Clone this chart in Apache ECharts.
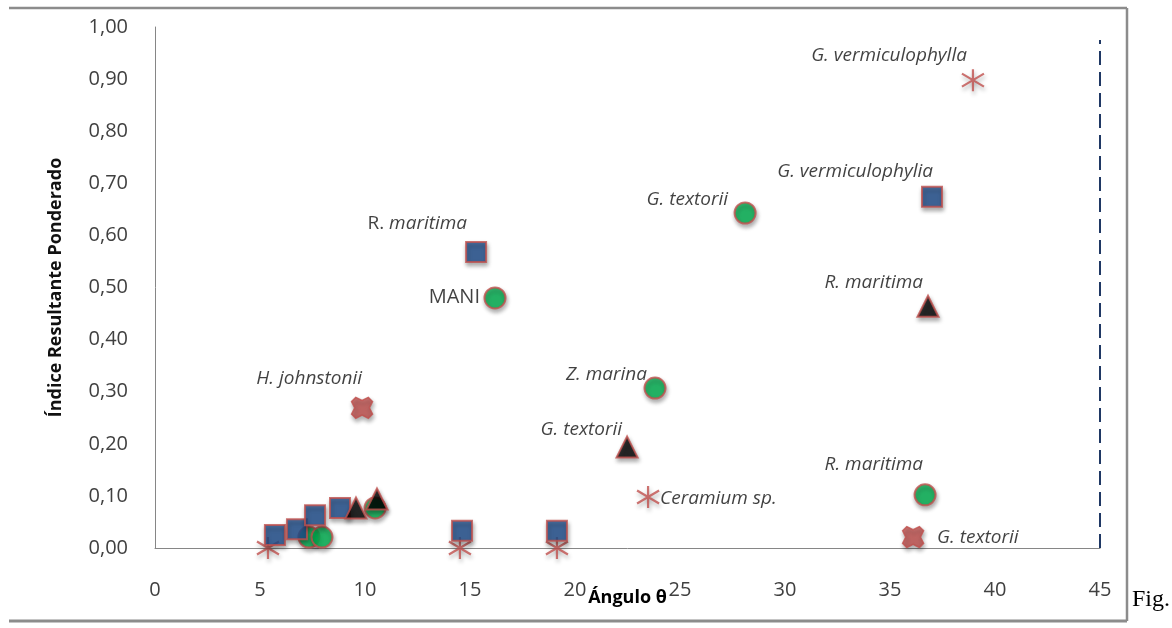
<!DOCTYPE html>
<html>
<head>
<meta charset="utf-8">
<script src="https://cdn.jsdelivr.net/npm/echarts@6/dist/echarts.min.js"></script>
<style>
  html, body { margin: 0; padding: 0; background: #fff; }
  #chart { width: 1172px; height: 628px; }
</style>
</head>
<body>
<div id="chart"></div>
<script>
// Weighted resulting index vs angle θ, per taxon group

// Squares
const squarePoints = [[5.71, 0.025], [6.76, 0.036], [7.62, 0.063], [8.81, 0.077],
                      [14.62, 0.033], [19.14, 0.033], [15.29, 0.568], [37.0, 0.674]];
const squareNames  = ['', '', '', '', '', '', 'R. maritima', 'G. vermiculophylia'];

// Circles
const circlePoints = [[7.33, 0.021], [7.95, 0.021], [10.48, 0.077], [16.19, 0.48],
                      [23.81, 0.307], [28.1, 0.643], [36.67, 0.102]];
const circleNames  = ['', '', '', 'MANI', 'Z. marina', 'G. textorii', 'R. maritima'];

// Triangles
const trianglePoints = [[9.57, 0.077], [10.57, 0.094], [22.48, 0.194], [36.81, 0.464]];
const triangleNames  = ['', '', 'G. textorii', 'R. maritima'];

// Asterisks
const starPoints = [[5.38, 0], [14.52, 0], [19.14, 0], [23.48, 0.098], [38.95, 0.898]];
const starNames  = ['', '', '', 'Ceramium sp.', 'G. vermiculophylla'];

// Filled crosses
const crossPoints = [[9.86, 0.269], [36.1, 0.021]];
const crossNames  = ['H. johnstonii', 'G. textorii'];

// Reference line at θ = 45
const limitLine = [[45, 0], [45, 0.975]];

// Label placement: [align, dx, dy] relative to the marker centre
const squareLabelPos   = { 6: ['right', -9, -28], 7: ['right', 1, -25] };
const circleLabelPos   = { 3: ['right', -15, -1], 4: ['right', -8, -13], 5: ['right', -17, -13], 6: ['right', -2, -30] };
const triangleLabelPos = { 2: ['right', -5, -17], 3: ['right', -5, -24] };
const starLabelPos     = { 3: ['left', 12, 2], 4: ['right', -6, -25] };
const crossLabelPos    = { 0: ['right', 0, -29], 1: ['left', 24, 1] };

const RED = '#C0504D';
const FONT = '"Open Sans", "DejaVu Sans", sans-serif';
const shadow = { shadowColor: 'rgba(0,0,0,0.38)', shadowBlur: 4, shadowOffsetX: 1, shadowOffsetY: 3 };

function buildData(points, names, placement) {
  return points.map(function (p, i) {
    const item = { value: p };
    const pos = placement[i];
    if (names[i] && pos) {
      const upright = names[i] === 'MANI';
      const mixed = names[i] === 'R. maritima' && placement === squareLabelPos;
      item.label = {
        show: true,
        position: 'inside',
        align: pos[0],
        verticalAlign: 'middle',
        offset: [pos[1], pos[2]],
        formatter: mixed ? '{n|R.} {i|maritima}' : names[i],
        fontFamily: FONT,
        fontSize: upright ? 20 : 19,
        fontStyle: upright ? 'normal' : 'italic',
        color: '#111',
        rich: {
          n: { fontFamily: FONT, fontSize: 19, fontStyle: 'normal', color: '#111' },
          i: { fontFamily: FONT, fontSize: 19, fontStyle: 'italic', color: '#111' }
        }
      };
    }
    return item;
  });
}

const starPath = 'path://M11,0 L11,22 M0,4.5 L22,17.5 M0,17.5 L22,4.5';
const crossPath = 'path://M0,4 L4,0 L10,3 L16,0 L20,4 L17,10 L20,16 L16,20 L10,17 L4,20 L0,16 L3,10 Z';

const chart = echarts.init(document.getElementById('chart'), null, { renderer: 'canvas' });

chart.setOption({
  backgroundColor: '#fff',
  animation: false,
  grid: { left: 155, right: 72, top: 27, bottom: 80, containLabel: false },
  xAxis: {
    type: 'value', min: 0, max: 45, interval: 5,
    axisLine: { show: true, onZero: false, lineStyle: { color: '#868686', width: 1 } },
    axisTick: { show: false },
    splitLine: { show: false },
    axisLabel: { margin: 32, fontSize: 20, color: '#404040', fontFamily: FONT },
    name: 'Ángulo θ', nameLocation: 'middle', nameGap: 41, nameMoveOverlap: false,
    nameTextStyle: { fontSize: 18, fontWeight: 'bold', color: '#000', fontFamily: FONT }
  },
  yAxis: {
    type: 'value', min: 0, max: 1, interval: 0.1,
    axisLine: { show: true, onZero: false, lineStyle: { color: '#868686', width: 1 } },
    axisTick: { show: false },
    splitLine: { show: false },
    axisLabel: {
      margin: 27, fontSize: 20, color: '#404040', fontFamily: FONT,
      formatter: function (v) { return v.toFixed(2).replace('.', ','); }
    },
    name: 'Índice Resultante Ponderado', nameLocation: 'middle', nameGap: 90,
    nameTextStyle: { fontSize: 18, fontWeight: 'bold', color: '#111', fontFamily: FONT }
  },
  series: [
    {
      type: 'line', data: limitLine, symbol: 'none', silent: true,
      lineStyle: { color: '#1F3864', width: 2, type: [14, 7] }
    },
    {
      type: 'scatter', symbol: starPath, symbolSize: 22,
      data: buildData(starPoints, starNames, starLabelPos),
      itemStyle: Object.assign({ color: 'rgba(0,0,0,0)', borderColor: RED, borderWidth: 2.2 }, shadow)
    },
    {
      type: 'scatter', symbol: crossPath, symbolSize: 21,
      data: buildData(crossPoints, crossNames, crossLabelPos),
      itemStyle: Object.assign({ color: RED, borderColor: RED, borderWidth: 1.5 }, shadow)
    },
    {
      type: 'scatter', symbol: 'circle', symbolSize: 21,
      data: buildData(circlePoints, circleNames, circleLabelPos),
      itemStyle: Object.assign({ color: '#00B050', borderColor: RED, borderWidth: 2 }, shadow)
    },
    {
      type: 'scatter', symbol: 'rect', symbolSize: 20,
      data: buildData(squarePoints, squareNames, squareLabelPos),
      itemStyle: Object.assign({ color: '#1F4E8C', borderColor: RED, borderWidth: 2 }, shadow)
    },
    {
      type: 'scatter', symbol: 'triangle', symbolSize: 21,
      data: buildData(trianglePoints, triangleNames, triangleLabelPos),
      itemStyle: Object.assign({ color: '#000', borderColor: RED, borderWidth: 2 }, shadow)
    }
  ],
  graphic: [
    { type: 'line', shape: { x1: 9, y1: 8, x2: 1127, y2: 8 }, style: { stroke: '#8c8c8c', lineWidth: 2.5 }, silent: true },
    { type: 'line', shape: { x1: 9, y1: 621, x2: 1127, y2: 621 }, style: { stroke: '#8c8c8c', lineWidth: 3 }, silent: true },
    { type: 'line', shape: { x1: 1127, y1: 8, x2: 1127, y2: 621 }, style: { stroke: '#8c8c8c', lineWidth: 2.5 }, silent: true },
    {
      type: 'text', left: 1132, top: 588, silent: true,
      style: { text: 'Fig.', fontFamily: '"Liberation Serif", "Times New Roman", serif', fontSize: 24, fill: '#000' }
    }
  ]
});
</script>
</body>
</html>
